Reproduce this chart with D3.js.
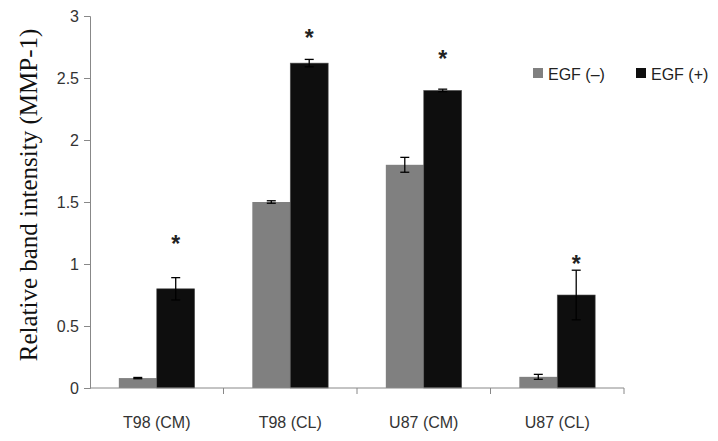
<!DOCTYPE html>
<html>
<head>
<meta charset="utf-8">
<script src="https://cdn.jsdelivr.net/npm/d3@7/dist/d3.min.js"></script>
<style>
  html, body { margin: 0; padding: 0; background: #fff; }
  svg { display: block; }
</style>
</head>
<body>
<svg id="chart" width="718" height="441"></svg>
<script>
const categories = ["T98 (CM)", "T98 (CL)", "U87 (CM)", "U87 (CL)"];
const seriesNames = ["EGF (\u2013)", "EGF (+)"];
const egfMinus = [0.08, 1.50, 1.80, 0.09];
const egfPlus = [0.80, 2.62, 2.40, 0.75];
const errMinus = [0.005, 0.01, 0.06, 0.02];
const errPlus = [0.09, 0.03, 0.01, 0.20];
const asteriskAt = [1.16, 2.82, 2.65, 1.00];
const yTicks = [0, 0.5, 1, 1.5, 2, 2.5, 3];
const yTickLabels = ["0", "0.5", "1", "1.5", "2", "2.5", "3"];
const colors = ["#808080", "#0e0e0e"];

const svg = d3.select("#chart");
const mLeft = 90, mRight = 624, mTop = 16, mBottom = 388;

const x0 = d3.scaleBand().domain(categories).range([mLeft, mRight]).paddingInner(0).paddingOuter(0);
const x1 = d3.scaleBand().domain(seriesNames).range([0, x0.bandwidth()]).paddingInner(0).paddingOuter(0.76);
const y = d3.scaleLinear().domain([0, 3]).range([mBottom, mTop]);

const data = categories.map((c, i) => ({
  cat: c,
  vals: [
    { s: seriesNames[0], v: egfMinus[i], e: errMinus[i], color: colors[0] },
    { s: seriesNames[1], v: egfPlus[i], e: errPlus[i], color: colors[1] }
  ],
  star: asteriskAt[i]
}));

// bars
const g = svg.append("g");
const groups = g.selectAll("g.grp").data(data).join("g")
  .attr("transform", d => `translate(${x0(d.cat)},0)`);
groups.selectAll("rect").data(d => d.vals).join("rect")
  .attr("x", d => x1(d.s))
  .attr("width", x1.bandwidth())
  .attr("y", d => y(d.v))
  .attr("height", d => y(0) - y(d.v))
  .attr("fill", d => d.color)
  .attr("stroke", d => d.s === seriesNames[1] ? "#555" : "none")
  .attr("stroke-width", 0.6);

// error bars
const cap = 4.5;
groups.each(function(d) {
  const gg = d3.select(this);
  d.vals.forEach(b => {
    const cx = x1(b.s) + x1.bandwidth() / 2;
    const stroke = "#000";
    gg.append("line").attr("x1", cx).attr("x2", cx)
      .attr("y1", y(b.v + b.e)).attr("y2", y(b.v - b.e))
      .attr("stroke", stroke).attr("stroke-width", 1.3);
    [b.v + b.e, b.v - b.e].forEach(t => {
      gg.append("line").attr("x1", cx - cap).attr("x2", cx + cap)
        .attr("y1", y(t)).attr("y2", y(t))
        .attr("stroke", stroke).attr("stroke-width", 1.3);
    });
  });
  // asterisk
  gg.append("text")
    .attr("x", x1(seriesNames[1]) + x1.bandwidth() / 2)
    .attr("y", y(d.star) + 8)
    .attr("text-anchor", "middle")
    .attr("font-family", "Liberation Sans, Arial, sans-serif")
    .attr("font-size", 23)
    .attr("font-weight", "bold")
    .attr("fill", "#222")
    .text("*");
});

// y axis
const yAxis = d3.axisLeft(y).tickValues(yTicks).tickFormat((d, i) => yTickLabels[i]).tickSize(6).tickPadding(5);
const ya = svg.append("g").attr("transform", `translate(${mLeft},0)`).call(yAxis);
ya.select(".domain").attr("stroke", "#888");
ya.selectAll(".tick line").attr("stroke", "#888");
ya.selectAll(".tick text").attr("font-family", "Liberation Sans, Arial, sans-serif").attr("font-size", 16).attr("fill", "#333");

// x axis
const xa = svg.append("g").attr("transform", `translate(0,${mBottom})`);
xa.append("line").attr("x1", mLeft).attr("x2", mRight).attr("y1", 0).attr("y2", 0).attr("stroke", "#888");
const boundaries = categories.map(c => x0(c) + x0.bandwidth());
xa.selectAll("line.tk").data(boundaries).join("line").attr("class", "tk")
  .attr("x1", d => d).attr("x2", d => d).attr("y1", 0).attr("y2", 6).attr("stroke", "#888");
xa.selectAll("text").data(categories).join("text")
  .attr("x", d => x0(d) + x0.bandwidth() / 2)
  .attr("y", 40)
  .attr("text-anchor", "middle")
  .attr("font-family", "Liberation Sans, Arial, sans-serif")
  .attr("font-size", 16)
  .attr("fill", "#333")
  .text(d => d);

// y title
svg.append("text")
  .attr("transform", "translate(37,195) rotate(-90)")
  .attr("text-anchor", "middle")
  .attr("font-family", "Liberation Serif, Times New Roman, serif")
  .attr("font-size", 25)
  .attr("fill", "#111")
  .text("Relative band intensity (MMP-1)");

// legend
const legX = [533, 636];
const leg = svg.append("g");
seriesNames.forEach((s, i) => {
  leg.append("rect").attr("x", legX[i]).attr("y", 68).attr("width", 10).attr("height", 10).attr("fill", colors[i]);
  leg.append("text").attr("x", legX[i] + 15).attr("y", 80)
    .attr("font-family", "Liberation Sans, Arial, sans-serif")
    .attr("font-size", 16).attr("fill", "#222").text(s);
});
</script>
</body>
</html>
